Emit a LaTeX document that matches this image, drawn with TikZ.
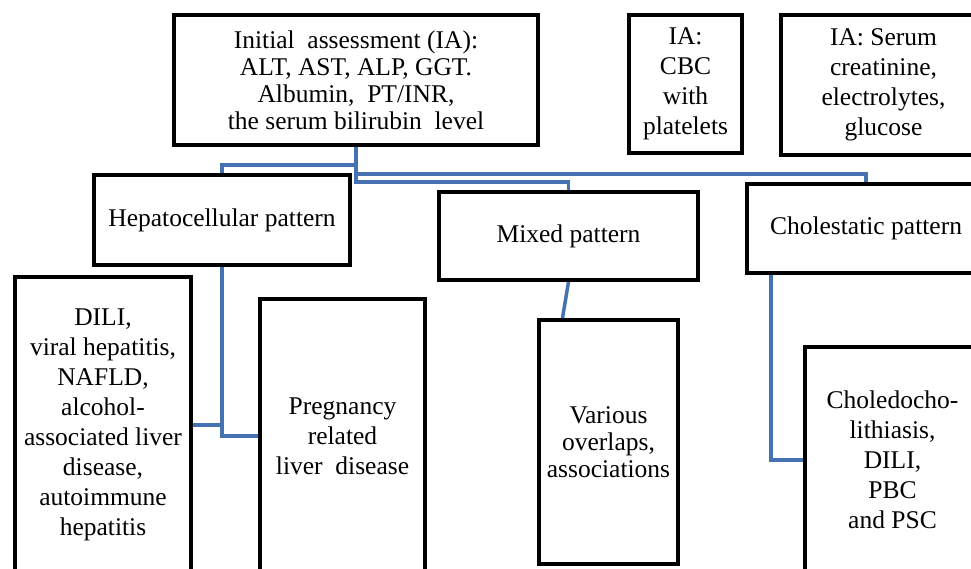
\documentclass[tikz,border=0pt]{standalone}
\usepackage{fontspec}
\setmainfont{Liberation Serif}
\usepackage{xcolor}
\usepackage{tikz}
\usetikzlibrary{positioning}
\definecolor{linkblue}{RGB}{68,114,178}
\definecolor{boxblack}{RGB}{0,0,0}

\begin{document}
\begin{tikzpicture}[
  x=1pt, y=-1pt,
  labbox/.style={draw=boxblack, line width=4pt, fill=white, align=center, anchor=north west,
                 inner sep=2pt, font=\fontsize{25.5}{30}\selectfont},
  tightbox/.style={labbox, font=\fontsize{25.5}{27}\selectfont},
  link/.style={draw=linkblue, line width=3.5pt}
]
\clip (0,0) rectangle (971,568);

% top row: initial assessment
\node[tightbox, minimum width=364pt, minimum height=130pt] (ia) at (172,13)
  {Initial\ \ assessment (IA):\\ALT, AST, ALP, GGT.\\Albumin,\ \ PT/INR,\\the serum bilirubin\ \ level};
\node[labbox, minimum width=113pt, minimum height=138pt] (cbc) at (627,13)
  {IA:\\CBC\\with\\platelets};
\node[labbox, minimum width=205pt, minimum height=140pt] (serum) at (779,13)
  {IA: Serum\\creatinine,\\electrolytes,\\glucose};

% patterns
\node[labbox, minimum width=256pt, minimum height=90pt] (hep) at (92,173) {Hepatocellular pattern};
\node[labbox, minimum width=259pt, minimum height=88pt] (mix) at (437,190) {Mixed pattern};
\node[labbox, minimum width=238pt, minimum height=89pt] (chol) at (745,182) {Cholestatic pattern};

% causes
\node[labbox, minimum width=176pt, minimum height=296pt] (dili) at (13,275)
  {DILI,\\viral hepatitis,\\NAFLD,\\alcohol-\\associated liver\\disease,\\autoimmune\\hepatitis};
\node[labbox, minimum width=165pt, minimum height=274pt] (preg) at (258,297)
  {Pregnancy\\related\\liver\ \ disease};
\node[tightbox, minimum width=139pt, minimum height=244pt] (var) at (537,318)
  {Various\\overlaps,\\associations};
\node[labbox, minimum width=175pt, minimum height=226pt] (cho) at (803,345)
  {Choledocho-\\lithiasis,\\DILI,\\PBC\\and PSC};

% connectors
\draw[link] (ia.south) -- ++(0,18) -| (hep.north);
\draw[link] (ia.south) -- ++(0,35) -| (mix.north);
\draw[link] (ia.south) -- ++(0,27) -| (chol.north);
\draw[link] (hep.south) |- (dili.east);
\draw[link] (hep.south) |- (preg.west);
\draw[link] (mix.south) -- ([xshift=-46pt]var.north);
\draw[link] ([xshift=26pt]chol.south west) |- (cho.west);
\end{tikzpicture}
\end{document}
